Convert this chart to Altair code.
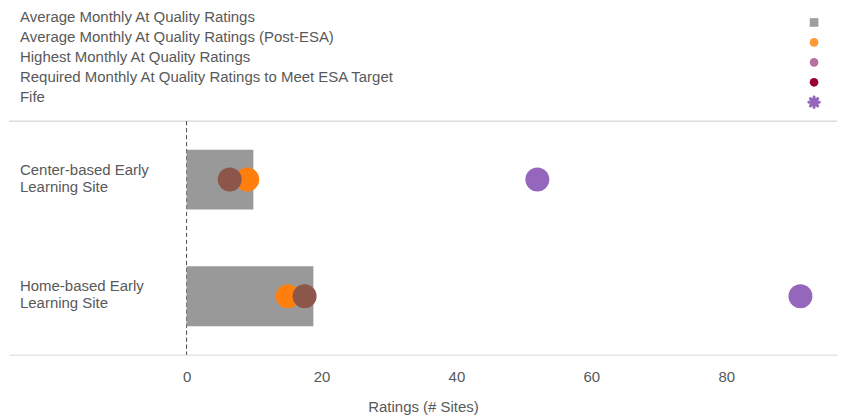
import altair as alt
import pandas as pd

# ---- data ----
categories = ["Center-based Early Learning Site", "Home-based Early Learning Site"]
avg_monthly = [9.9, 18.8]          # bars
avg_post_esa = [9.0, 15.0]         # orange circles
required_esa = [6.4, 17.5]         # brown circles
highest_monthly = [52.0, 91.0]     # purple circles

legend_labels = [
    "Average Monthly At Quality Ratings",
    "Average Monthly At Quality Ratings (Post-ESA)",
    "Highest Monthly At Quality Ratings",
    "Required Monthly At Quality Ratings to Meet ESA Target",
    "Fife",
]
legend_colors = ["#9d9ea2", "#ff9933", "#b5739d", "#990033", "#9467bd"]
legend_shapes = ["square", "circle", "circle", "circle", "asterisk"]

series_names = ["Highest", "Post-ESA", "Required"]
series_colors = ["#9467bd", "#ff7f0e", "#8c564b"]

FONT = "Arial"
FS = 15
TEXT = "#595959"
LINE = "#d9d9d9"
W = 830

# ---- legend chart ----
leg = pd.DataFrame({
    "row": list(range(len(legend_labels))),
    "label": legend_labels,
    "color": legend_colors,
    "shape": legend_shapes,
})
ybase = alt.Scale(domain=[0, 4], range=[14, 94])
ysym = alt.Scale(domain=[0, 4], range=[7, 88])

leg_text = alt.Chart(leg).mark_text(
    align="left", baseline="alphabetic", fontSize=FS, color=TEXT, font=FONT
).encode(
    x=alt.value(11),
    y=alt.Y("row:Q", scale=ybase, axis=None),
    text="label:N",
)
leg_filled = alt.Chart(leg).transform_filter("datum.shape != 'asterisk'").mark_point(
    filled=True, opacity=1, size=75
).encode(
    x=alt.value(807),
    y=alt.Y("row:Q", scale=ysym, axis=None),
    shape=alt.Shape("shape:N", scale=None),
    color=alt.Color("color:N", scale=None),
)
ast_path = "M-1,0L1,0M0,-1L0,1M-0.7,-0.7L0.7,0.7M-0.7,0.7L0.7,-0.7"
leg_ast = alt.Chart(leg).transform_filter("datum.shape == 'asterisk'").mark_point(
    shape=ast_path, filled=False, strokeWidth=3, strokeCap="round", opacity=1, size=110
).encode(
    x=alt.value(807),
    y=alt.Y("row:Q", scale=ysym, axis=None),
    color=alt.Color("color:N", scale=None),
)
legend_chart = alt.layer(leg_text, leg_filled, leg_ast).properties(width=W, height=112)

# ---- main chart ----
bars_df = pd.DataFrame({"category": categories, "value": avg_monthly})
pts = []
for i, c in enumerate(categories):
    pts.append({"category": c, "series": "Highest", "value": highest_monthly[i]})
    pts.append({"category": c, "series": "Post-ESA", "value": avg_post_esa[i]})
    pts.append({"category": c, "series": "Required", "value": required_esa[i]})
pts_df = pd.DataFrame(pts)

xscale = alt.Scale(domain=[-26.32, 96.42], nice=False, zero=False)
yscale = alt.Scale(domain=categories, paddingInner=0.0, paddingOuter=0.0)

xaxis = alt.Axis(
    values=[0, 20, 40, 60, 80], ticks=False, grid=False, domainColor=LINE,
    labelColor=TEXT, labelFontSize=FS, labelPadding=15, labelFont=FONT,
    title="Ratings (# Sites)", titleColor=TEXT, titleFontSize=FS, titleFont=FONT,
    titleFontWeight="normal", titlePadding=15,
)

top_line = alt.Chart(bars_df).mark_rule(color=LINE).encode(
    y=alt.value(0), x=alt.value(0), x2=alt.value(W)
)
zero_line = alt.Chart(bars_df).mark_rule(color=TEXT, strokeDash=[4, 3]).encode(
    x=alt.X("z:Q", scale=xscale, axis=xaxis)
).transform_calculate(z="0")

bars = alt.Chart(bars_df).mark_bar(size=60, color="#999999").encode(
    x=alt.X("value:Q", scale=xscale, axis=xaxis),
    y=alt.Y("category:N", scale=yscale, axis=None),
)
circles = alt.Chart(pts_df).mark_circle(size=575, opacity=1).encode(
    x=alt.X("value:Q", scale=xscale, axis=xaxis),
    y=alt.Y("category:N", scale=yscale, axis=None),
    color=alt.Color("series:N", scale=alt.Scale(domain=series_names, range=series_colors), legend=None),
)
cat_labels = alt.Chart(bars_df).transform_calculate(
    lab="replace(datum.category, 'Early ', 'Early\\n')"
).mark_text(
    align="left", baseline="middle", fontSize=FS, color=TEXT, lineBreak="\n", lineHeight=17,
    font=FONT, dy=-10
).encode(
    x=alt.value(11),
    y=alt.Y("category:N", scale=yscale, axis=None),
    text="lab:N",
)

main_chart = alt.layer(top_line, zero_line, bars, circles, cat_labels).properties(width=W, height=234)

chart = alt.vconcat(legend_chart, main_chart, spacing=0).properties(
    padding=0
).configure(font=FONT).configure_view(stroke=None)

chart.save("out.html", embed_options={"renderer": "svg", "actions": False})
